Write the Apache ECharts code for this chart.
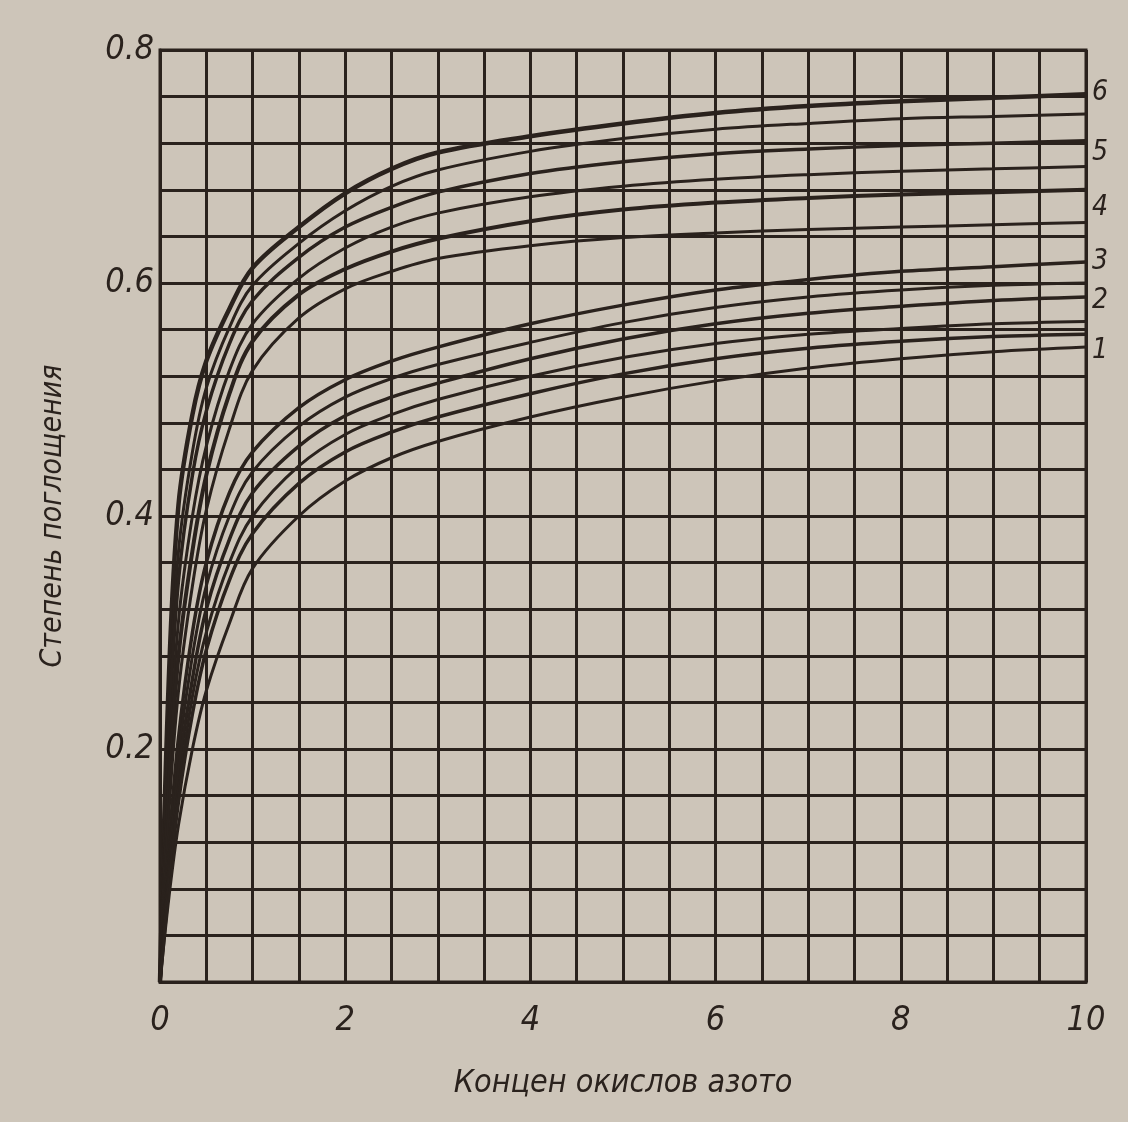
<!DOCTYPE html>
<html>
<head>
<meta charset="utf-8">
<script src="https://cdn.jsdelivr.net/npm/echarts@6/dist/echarts.min.js"></script>
<style>
html,body{margin:0;padding:0;background:#cdc5b9;}
#chart{width:1128px;height:1122px;}
</style>
</head>
<body>
<div id="chart"></div>
<script>
// x positions (concentration of nitrogen oxides)
var xValues = [0, 0.1, 0.2, 0.35, 0.5, 0.75, 1, 1.5, 2, 2.5, 3, 4, 5, 6, 7, 8, 9, 10];

// upper family of curves (labels 6, 5, 4)
var curveU1 = [0, 0.27, 0.41, 0.487, 0.533, 0.578, 0.613, 0.648, 0.677, 0.698, 0.712, 0.726, 0.737, 0.746, 0.752, 0.756, 0.759, 0.762];
var curveU2 = [0, 0.24, 0.37, 0.455, 0.51, 0.562, 0.598, 0.634, 0.662, 0.683, 0.697, 0.713, 0.724, 0.732, 0.737, 0.741, 0.743, 0.745];
var curveU3 = [0, 0.22, 0.345, 0.435, 0.49, 0.548, 0.585, 0.622, 0.648, 0.665, 0.678, 0.694, 0.704, 0.711, 0.715, 0.718, 0.72, 0.722];
var curveU4 = [0, 0.19, 0.31, 0.40, 0.46, 0.525, 0.565, 0.604, 0.630, 0.648, 0.660, 0.674, 0.683, 0.689, 0.693, 0.696, 0.698, 0.70];
var curveU5 = [0, 0.17, 0.28, 0.37, 0.435, 0.505, 0.55, 0.59, 0.612, 0.627, 0.638, 0.653, 0.663, 0.669, 0.673, 0.676, 0.678, 0.68];
var curveU6 = [0, 0.15, 0.25, 0.34, 0.405, 0.475, 0.525, 0.57, 0.595, 0.610, 0.621, 0.632, 0.639, 0.643, 0.646, 0.648, 0.65, 0.652];

// lower family of curves (labels 3, 2, 1)
var curveL1 = [0, 0.12, 0.21, 0.30, 0.36, 0.42, 0.455, 0.493, 0.517, 0.533, 0.545, 0.565, 0.581, 0.594, 0.603, 0.61, 0.614, 0.618];
var curveL2 = [0, 0.11, 0.195, 0.28, 0.34, 0.40, 0.438, 0.477, 0.502, 0.518, 0.530, 0.549, 0.566, 0.579, 0.588, 0.594, 0.598, 0.60];
var curveL3 = [0, 0.10, 0.18, 0.26, 0.32, 0.38, 0.42, 0.46, 0.486, 0.502, 0.514, 0.535, 0.552, 0.565, 0.574, 0.58, 0.585, 0.588];
var curveL4 = [0, 0.095, 0.165, 0.245, 0.30, 0.36, 0.40, 0.443, 0.47, 0.487, 0.50, 0.52, 0.536, 0.548, 0.556, 0.561, 0.565, 0.567];
var curveL5 = [0, 0.085, 0.155, 0.23, 0.285, 0.345, 0.385, 0.428, 0.455, 0.472, 0.485, 0.505, 0.522, 0.535, 0.544, 0.55, 0.554, 0.556];
var curveL6 = [0, 0.075, 0.135, 0.20, 0.25, 0.308, 0.355, 0.40, 0.43, 0.45, 0.464, 0.485, 0.502, 0.516, 0.527, 0.535, 0.541, 0.545];

var xTickLabels = ['0', '2', '4', '6', '8', '10'];
var yTickLabels = ['0.2', '0.4', '0.6', '0.8'];
var xTitle = 'Концен окислов азото';
var yTitle = 'Степень поглощения';

var curves = [
  {data: curveU1, label: '6', w: 4.5, dy: -2},
  {data: curveU2, label: null, w: 3},
  {data: curveU3, label: '5', w: 3.5, dy: 12},
  {data: curveU4, label: null, w: 3},
  {data: curveU5, label: '4', w: 4, dy: 18},
  {data: curveU6, label: null, w: 3},
  {data: curveL1, label: '3', w: 3.5, dy: 0},
  {data: curveL2, label: null, w: 3},
  {data: curveL3, label: '2', w: 3.5, dy: 4},
  {data: curveL4, label: null, w: 3},
  {data: curveL5, label: null, w: 3.5},
  {data: curveL6, label: '1', w: 3, dy: 4}
];

var ink = '#2a221d';
var font = '"DejaVu Sans Condensed", "DejaVu Sans", sans-serif';

function pairs(arr) {
  return xValues.map(function (x, i) { return [x, arr[i]]; });
}

var series = curves.map(function (c) {
  var s = {
    type: 'line',
    data: pairs(c.data),
    smooth: 0.35,
    showSymbol: false,
    symbol: 'none',
    lineStyle: {color: ink, width: c.w},
    silent: true,
    z: 3
  };
  if (c.label) {
    s.endLabel = {
      show: true,
      formatter: c.label,
      color: ink,
      fontSize: 28,
      fontStyle: 'italic',
      fontFamily: font,
      distance: 6,
      offset: [0, c.dy]
    };
  }
  return s;
});

var chart = echarts.init(document.getElementById('chart'), null, {renderer: 'canvas'});
chart.setOption({
  backgroundColor: '#cdc5b9',
  animation: false,
  grid: {
    left: 160, right: 42, top: 50, bottom: 140,
    show: true, borderColor: ink, borderWidth: 3, backgroundColor: 'transparent'
  },
  xAxis: {
    type: 'value', min: 0, max: 10, interval: 0.5,
    name: xTitle, nameLocation: 'middle', nameGap: 86,
    nameTextStyle: {color: ink, fontSize: 32, fontStyle: 'italic', fontFamily: font},
    axisLine: {show: true, lineStyle: {color: ink, width: 3}},
    axisTick: {show: false},
    axisLabel: {
      color: ink, fontSize: 34, fontStyle: 'italic', fontFamily: font, margin: 22,
      formatter: function (v) {
        var s = String(Math.round(v));
        return (Math.abs(v - Math.round(v)) < 1e-6 && xTickLabels.indexOf(s) >= 0) ? s : '';
      }
    },
    splitLine: {show: true, lineStyle: {color: ink, width: 3}}
  },
  yAxis: {
    type: 'value', min: 0, max: 0.8, interval: 0.04,
    name: yTitle, nameLocation: 'middle', nameGap: 92, nameRotate: 90,
    nameTextStyle: {color: ink, fontSize: 30, fontStyle: 'italic', fontFamily: font},
    axisLine: {show: true, lineStyle: {color: ink, width: 3}},
    axisTick: {show: false},
    axisLabel: {
      color: ink, fontSize: 34, fontStyle: 'italic', fontFamily: font, margin: 6,
      formatter: function (v) {
        var s = (Math.round(v * 10) / 10).toFixed(1);
        return (Math.abs(v * 10 - Math.round(v * 10)) < 1e-6 && yTickLabels.indexOf(s) >= 0) ? s : '';
      }
    },
    splitLine: {show: true, lineStyle: {color: ink, width: 3}}
  },
  series: series
});
</script>
</body>
</html>
